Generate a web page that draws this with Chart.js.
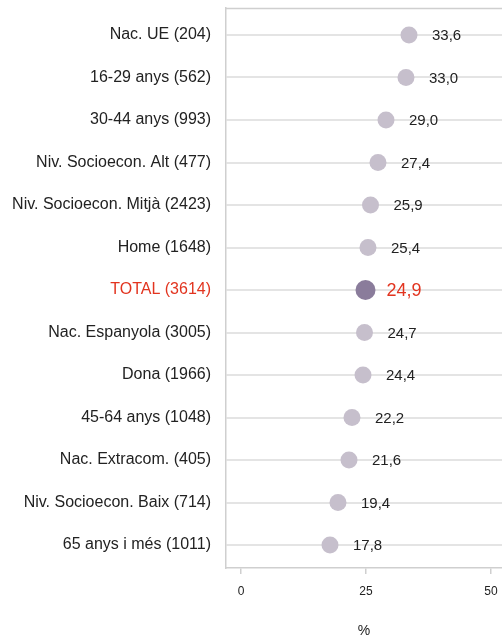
<!DOCTYPE html>
<html>
<head>
<meta charset="utf-8">
<script src="https://cdn.jsdelivr.net/npm/chart.js@4"></script>
<style>
  html, body { margin: 0; padding: 0; background: #fff; overflow: hidden; }
  #wrap { width: 502px; height: 640px; }
  canvas { display: block; }
</style>
</head>
<body>
<div id="wrap"><canvas id="chart"></canvas></div>
<script>
const categories = [
  "Nac. UE (204)",
  "16-29 anys (562)",
  "30-44 anys (993)",
  "Niv. Socioecon. Alt (477)",
  "Niv. Socioecon. Mitjà (2423)",
  "Home (1648)",
  "TOTAL (3614)",
  "Nac. Espanyola (3005)",
  "Dona (1966)",
  "45-64 anys (1048)",
  "Nac. Extracom. (405)",
  "Niv. Socioecon. Baix (714)",
  "65 anys i més (1011)"
];
const values = [33.6, 33.0, 29.0, 27.4, 25.9, 25.4, 24.9, 24.7, 24.4, 22.2, 21.6, 19.4, 17.8];
const xTicks = [0, 25, 50];
const totalIndex = categories.indexOf("TOTAL (3614)");

const FONT = "'Liberation Sans', Arial, sans-serif";
const RED = "#e2341f";

const fmt = v => v.toFixed(1).replace(".", ",");

// value labels next to each dot
const valueLabels = {
  id: "valueLabels",
  afterDatasetsDraw(chart) {
    const ctx = chart.ctx;
    const meta = chart.getDatasetMeta(0);
    ctx.save();
    ctx.textBaseline = "middle";
    ctx.textAlign = "left";
    meta.data.forEach((pt, i) => {
      const isTotal = i === totalIndex;
      ctx.fillStyle = isTotal ? RED : "#222";
      ctx.font = (isTotal ? "18px " : "15px ") + FONT;
      ctx.fillText(fmt(values[i]), pt.x + (isTotal ? 21 : 23), pt.y + 1);
    });
    ctx.restore();
  }
};

// top border line of the plot box
const topBorder = {
  id: "topBorder",
  beforeDatasetsDraw(chart) {
    const { ctx, chartArea } = chart;
    ctx.save();
    ctx.strokeStyle = "#cfcfcf";
    ctx.lineWidth = 1.5;
    ctx.beginPath();
    ctx.moveTo(chartArea.left, chartArea.top + 0.5);
    ctx.lineTo(chartArea.right + 5, chartArea.top + 0.5);
    ctx.stroke();
    ctx.restore();
  }
};

new Chart(document.getElementById("chart"), {
  type: "scatter",
  data: {
    datasets: [{
      data: values.map((v, i) => ({ x: v, y: i })),
      pointRadius: values.map((v, i) => i === totalIndex ? 10 : 8.5),
      pointHoverRadius: values.map((v, i) => i === totalIndex ? 10 : 8.5),
      pointBackgroundColor: values.map((v, i) => i === totalIndex ? "#8a7c9b" : "#c6bfcc"),
      pointBorderWidth: 0
    }]
  },
  options: {
    responsive: true,
    maintainAspectRatio: false,
    animation: false,
    layout: { autoPadding: false, padding: { top: 8, left: 0, right: 0, bottom: 0 } },
    plugins: {
      legend: { display: false },
      tooltip: { enabled: false }
    },
    scales: {
      x: {
        type: "linear",
        min: -3,
        max: 52.2,
        afterBuildTicks: axis => { axis.ticks = xTicks.map(v => ({ value: v })); },
        afterFit: axis => {
          axis.height = 72;
          axis.paddingLeft = 0;
          axis.paddingRight = 0;
        },
        grid: {
          drawOnChartArea: false,
          drawTicks: true,
          tickLength: 6,
          color: "#cfcfcf",
          lineWidth: 1.5
        },
        border: { display: true, color: "#cfcfcf", width: 1.5 },
        ticks: {
          color: "#222",
          padding: 10,
          maxRotation: 0,
          font: { family: FONT, size: 12 }
        },
        title: {
          display: true,
          text: "%",
          color: "#222",
          padding: { top: 0, bottom: 0 },
          font: { family: FONT, size: 14 }
        }
      },
      y: {
        type: "linear",
        reverse: true,
        min: -0.635,
        max: 12.54,
        afterBuildTicks: axis => { axis.ticks = categories.map((c, i) => ({ value: i })); },
        afterFit: axis => {
          axis.width = 226;
          axis.paddingTop = 0;
          axis.paddingBottom = 0;
        },
        grid: {
          drawTicks: false,
          color: "#e4e4e4",
          lineWidth: 2
        },
        border: { display: true, color: "#cfcfcf", width: 1.5 },
        ticks: {
          padding: 15,
          autoSkip: false,
          callback: v => categories[v],
          color: ctx => ctx.index === totalIndex ? RED : "#222",
          font: { family: FONT, size: 16 }
        }
      }
    }
  },
  plugins: [topBorder, valueLabels]
});
</script>
</body>
</html>
